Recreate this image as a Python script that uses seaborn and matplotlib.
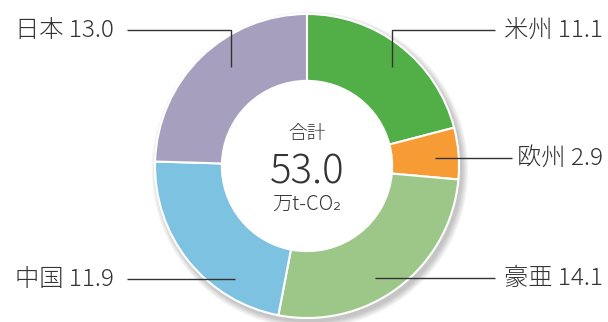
import matplotlib
matplotlib.use("Agg")
import matplotlib.pyplot as plt
import seaborn as sns
from matplotlib.patches import Circle

regions = ["米州", "欧州", "豪亜", "中国", "日本"]
values = [11.1, 2.9, 14.1, 11.9, 13.0]
colors = ["#52AE47", "#F79C34", "#9CC789", "#7EC2E2", "#A69FBD"]
total_label = "53.0"

sns.set_theme(style="white")
plt.rcParams['font.family'] = ['Noto Sans CJK JP', 'DejaVu Sans']

W, H = 608, 322
fig = plt.figure(figsize=(W / 100, H / 100), dpi=100)
ax = fig.add_axes([0, 0, 1, 1])

def P(x, y):
    return (x, H - y)

cx, cy = 307, 166
R = 152
ring = 0.44
cen = P(cx, cy)

# soft shadow
for i in range(10):
    ax.add_patch(Circle((cen[0] + 3, cen[1] - 4), R + 0.2 + i * 0.7,
                        color="black", alpha=0.025, lw=0, zorder=1))

ax.pie(values, colors=colors, startangle=90, counterclock=False,
       center=cen, radius=R, frame=True,
       wedgeprops=dict(width=R * ring, edgecolor="white", linewidth=1.5, zorder=2))
ax.add_patch(Circle(cen, R * (1 - ring) - 0.5, color="white", lw=0, zorder=3))
ax.set_xlim(0, W)
ax.set_ylim(0, H)
ax.set_aspect('equal')
ax.axis('off')

tc = "#333333"
labels = [
    (f"{regions[0]} {values[0]:.1f}", 603, 30, "right", [(392, 67), (392, 30), (495, 30)]),
    (f"{regions[1]} {values[1]:.1f}", 603, 158, "right", [(435, 158), (512, 158)]),
    (f"{regions[2]} {values[2]:.1f}", 603, 278, "right", [(375, 278), (495, 278)]),
    (f"{regions[3]} {values[3]:.1f}", 15, 279, "left", [(127, 279), (235, 279)]),
    (f"{regions[4]} {values[4]:.1f}", 15, 30, "left", [(127, 30), (231, 30), (231, 67)]),
]
for txt, tx, ty, ha, pts in labels:
    xs = [p[0] for p in pts]
    ys = [H - p[1] for p in pts]
    ax.plot(xs, ys, color=tc, lw=1.0, zorder=5, solid_capstyle='butt')
    ax.text(*P(tx, ty), txt, ha=ha, va="center", fontsize=17.5, color=tc,
            fontweight="light", zorder=6)

ax.text(*P(cx, 134), "合計", ha="center", va="center", fontsize=13.5, color=tc,
        fontweight="light", zorder=6)
ax.text(*P(cx, 172), total_label, ha="center", va="center", fontsize=29, color=tc,
        fontweight="light", zorder=6)
ax.text(*P(cx, 204), "万t-CO₂", ha="center", va="center", fontsize=14.5, color=tc,
        fontweight="light", zorder=6)

fig.savefig("out.png", dpi=100)
